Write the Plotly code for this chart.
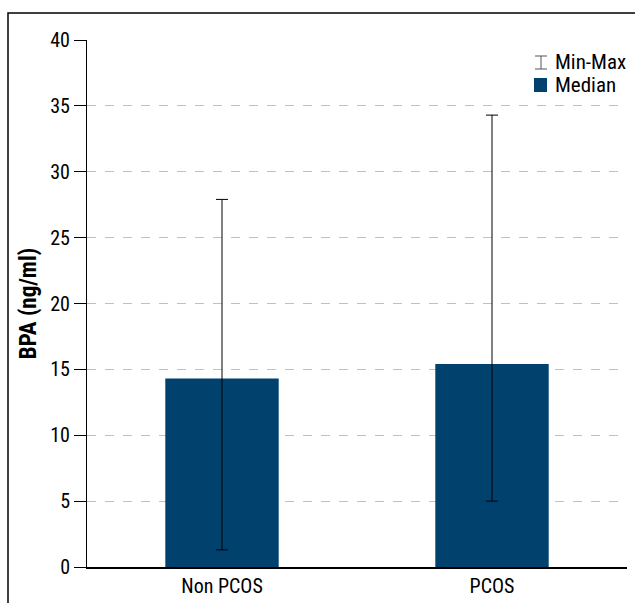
import plotly.graph_objects as go

categories = ["Non PCOS", "PCOS"]
median = [14.3, 15.4]
min_vals = [1.3, 5.0]
max_vals = [27.9, 34.3]
y_ticks = [0, 5, 10, 15, 20, 25, 30, 35, 40]

BAR = "#00416e"
FONT = "Roboto Condensed, DejaVu Sans Condensed, Liberation Sans Narrow, Arial Narrow, Liberation Sans, Arial, sans-serif"

W, H = 635, 603
ML, MR, MT, MB = 87, 8, 40, 36
PW, PH = W - ML - MR, H - MT - MB


def px(x):
    return (x - ML) / PW


def py(y):
    return (H - MB - y) / PH


fig = go.Figure()
fig.add_trace(go.Bar(
    x=categories,
    y=median,
    marker=dict(color=BAR, line=dict(width=0)),
    width=0.42,
    error_y=dict(
        type="data",
        symmetric=False,
        array=[mx - m for mx, m in zip(max_vals, median)],
        arrayminus=[m - mn for m, mn in zip(median, min_vals)],
        color="black",
        thickness=1,
        width=6,
    ),
    showlegend=False,
    name="Median",
))

shapes = [
    dict(type="rect", xref="paper", yref="paper",
         x0=px(8), x1=px(700), y0=py(700), y1=py(13),
         line=dict(color="black", width=1.5), fillcolor="rgba(0,0,0,0)", layer="below"),
    dict(type="line", xref="paper", yref="paper", x0=px(541), x1=px(541), y0=py(56), y1=py(69),
         line=dict(color="#555555", width=1)),
    dict(type="line", xref="paper", yref="paper", x0=px(535), x1=px(547), y0=py(56), y1=py(56),
         line=dict(color="#555555", width=1)),
    dict(type="line", xref="paper", yref="paper", x0=px(535), x1=px(547), y0=py(69), y1=py(69),
         line=dict(color="#555555", width=1)),
    dict(type="rect", xref="paper", yref="paper", x0=px(534), x1=px(547), y0=py(92), y1=py(78),
         fillcolor=BAR, line=dict(width=0)),
]

annotations = [
    dict(text="Min-Max", xref="paper", yref="paper", x=px(553), y=py(62),
         xanchor="left", yanchor="middle", showarrow=False,
         font=dict(family=FONT, size=21, color="black")),
    dict(text="Median", xref="paper", yref="paper", x=px(553), y=py(85),
         xanchor="left", yanchor="middle", showarrow=False,
         font=dict(family=FONT, size=21, color="black")),
]

fig.update_layout(
    width=W, height=H,
    margin=dict(l=ML, r=MR, t=MT, b=MB, autoexpand=False),
    paper_bgcolor="white", plot_bgcolor="white",
    font=dict(family=FONT, size=20, color="black"),
    bargap=0.58,
    shapes=shapes,
    annotations=annotations,
    xaxis=dict(
        showline=True, linecolor="black", linewidth=1.5,
        ticks="", showgrid=False, tickfont=dict(size=20), automargin=False,
    ),
    yaxis=dict(
        range=[0, 40], tickvals=y_ticks,
        showline=True, linecolor="black", linewidth=1,
        ticks="outside", ticklen=12, tickcolor="black",
        showgrid=True, gridcolor="#c0c0c0", griddash="dash", gridwidth=1,
        zeroline=False, automargin=False,
        title=dict(text="<b>BPA (ng/ml)</b>", font=dict(size=23), standoff=7),
        tickfont=dict(size=20),
    ),
)

fig.write_html("out.html", config={"displayModeBar": False},
               post_script="document.body.style.margin='0';")
